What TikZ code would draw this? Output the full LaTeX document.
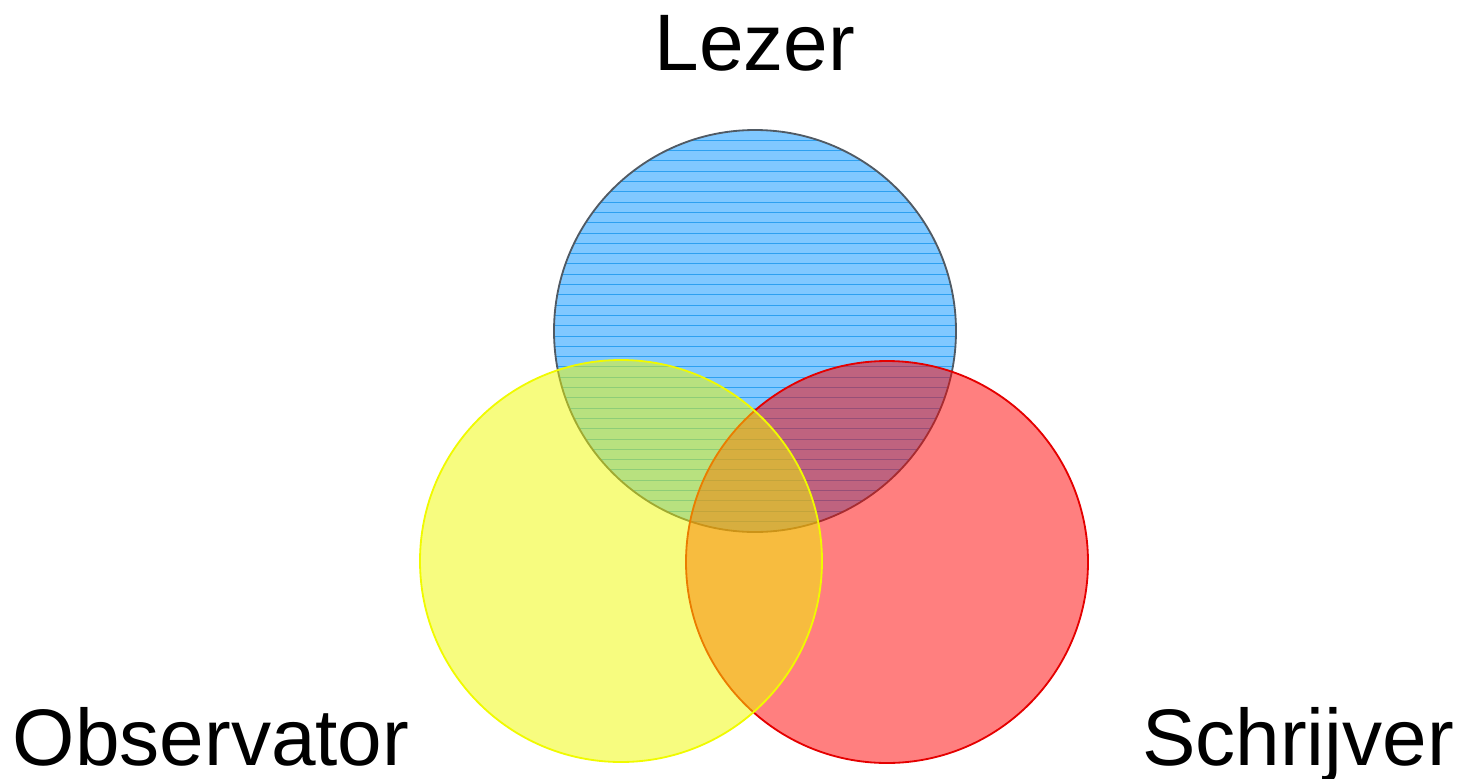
\documentclass[tikz,border=0pt]{standalone}
\usepackage{fontspec}
\setmainfont{Liberation Sans}
\definecolor{lezerblauw}{RGB}{128,200,255}
\definecolor{lezerlijn}{RGB}{45,160,240}
\definecolor{lezerrand}{RGB}{80,90,100}
\definecolor{schrijverrood}{RGB}{255,0,0}
\definecolor{observatorgeel}{RGB}{240,250,0}

\begin{document}
\begin{tikzpicture} [x=0.025cm, y=-0.025cm,
        naam/.style={font=\fontsize{57}{68}\selectfont, inner sep=0pt},
        rand/.style={line width=1.3pt}]
        \useasboundingbox (0,0) rectangle (1460,778);

        \coordinate (L) at (755,331);
        \coordinate (O) at (621,561);
        \coordinate (S) at (887,562);

        % Lezer
        \fill[lezerblauw] (L) circle (201);
        \begin{scope}
            \clip (L) circle (201);
            \foreach \k in {0,...,39}
                \draw[lezerlijn, line width=0.6pt] (554,{130+10.3*\k}) -- (956,{130+10.3*\k});
        \end{scope}
        \draw[rand, lezerrand] (L) circle (201);

        % Schrijver
        \fill[schrijverrood, fill opacity=0.5] (S) circle (201);
        \draw[rand, schrijverrood!90!black] (S) circle (201);

        % Observator
        \fill[observatorgeel, fill opacity=0.5] (O) circle (201);
        \draw[rand, observatorgeel] (O) circle (201);

        \node[naam, anchor=base] (lezer) at (755,70) {Lezer};
        \node[naam, anchor=base] (observator) at (211,765) {Observator};
        \node[naam, anchor=base] (schrijver) at (1298,765) {Schrijver};
    \end{tikzpicture}
\end{document}
